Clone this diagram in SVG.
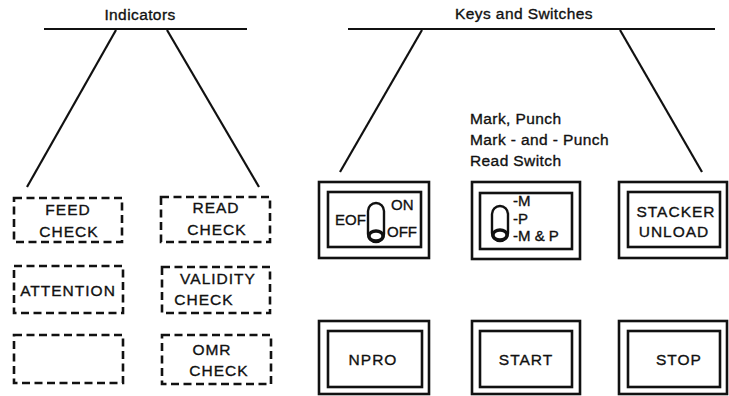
<svg xmlns="http://www.w3.org/2000/svg" width="729" height="396" viewBox="0 0 729 396">
<style>
text{font-family:"Liberation Sans",Arial,sans-serif;fill:#111;stroke:#111;stroke-width:0.35px;}
.h{font-size:15.5px;letter-spacing:0.4px;}
.c{font-size:15.5px;letter-spacing:1px;text-anchor:middle;}
.s{font-size:15px;}
.ln{stroke:#111;stroke-width:2.2;fill:none;}
.d{stroke:#111;stroke-width:2.6;fill:none;stroke-dasharray:8 4.5;}
.o{stroke:#111;stroke-width:2.6;fill:none;}
.pill{stroke:#111;stroke-width:2.4;fill:#fff;}
.ring{stroke:#111;stroke-width:3.4;fill:#fff;}
</style>
<rect width="729" height="396" fill="#fff"/>
<text class="h" x="140" y="20" text-anchor="middle">Indicators</text>
<text class="h" x="524" y="19" text-anchor="middle">Keys and Switches</text>
<g id="connectors">
<line class="ln" x1="44" y1="29" x2="247" y2="29"/>
<line class="ln" x1="116" y1="30" x2="27" y2="187"/>
<line class="ln" x1="167" y1="30" x2="259" y2="187"/>
<line class="ln" x1="348" y1="29" x2="715" y2="29"/>
<line class="ln" x1="422" y1="30" x2="340" y2="172"/>
<line class="ln" x1="620" y1="30" x2="702" y2="172"/>
</g>
<g id="feed-check"><rect class="d" x="14" y="198" width="108" height="44"/><text class="c" x="68" y="215">FEED</text><text class="c" x="69" y="237">CHECK</text></g>
<g id="read-check"><rect class="d" x="161" y="197" width="109" height="45"/><text class="c" x="216" y="213">READ</text><text class="c" x="217" y="235">CHECK</text></g>
<g id="attention"><rect class="d" x="14" y="266" width="109" height="47"/><text class="c" x="68" y="296">ATTENTION</text></g>
<g id="validity-check"><rect class="d" x="162" y="267" width="108" height="46"/><text class="c" x="218" y="284">VALIDITY</text><text class="c" x="204" y="305">CHECK</text></g>
<g id="blank-indicator"><rect class="d" x="14" y="335" width="109" height="48"/></g>
<g id="omr-check"><rect class="d" x="162" y="335" width="109" height="49"/><text class="c" x="212" y="355">OMR</text><text class="c" x="219" y="376">CHECK</text></g>
<text class="h" x="470" y="124">Mark, Punch</text>
<text class="h" x="470" y="145">Mark - and - Punch</text>
<text class="h" x="470" y="166">Read Switch</text>
<g id="eof-switch">
<rect class="o" x="319" y="182" width="110" height="76"/>
<rect class="o" x="328" y="192" width="93" height="55"/>
<text class="s" x="335" y="225">EOF</text>
<rect class="pill" x="368" y="203" width="16" height="39" rx="8"/>
<ellipse class="ring" cx="376" cy="236" rx="7" ry="5"/>
<text class="s" x="391" y="210">ON</text>
<text class="s" x="387" y="237">OFF</text>
</g>
<g id="mark-punch-switch">
<rect class="o" x="472" y="182" width="108" height="77"/>
<rect class="o" x="480" y="193" width="92" height="56"/>
<rect class="pill" x="492" y="206" width="16" height="35" rx="8"/>
<ellipse class="ring" cx="500" cy="235" rx="7" ry="5"/>
<text class="s" x="513" y="206">-M</text>
<text class="s" x="513" y="224">-P</text>
<text class="s" x="513" y="241">-M &amp; P</text>
</g>
<g id="stacker-unload">
<rect class="o" x="619" y="182" width="108" height="76"/>
<rect class="o" x="628" y="192" width="92" height="55"/>
<text class="c" x="676" y="217">STACKER</text>
<text class="c" x="674" y="237">UNLOAD</text>
</g>
<g id="npro">
<rect class="o" x="319" y="321" width="110" height="73"/>
<rect class="o" x="328" y="331" width="94" height="56"/>
<text class="c" x="373" y="365">NPRO</text>
</g>
<g id="start">
<rect class="o" x="472" y="321" width="108" height="73"/>
<rect class="o" x="480" y="331" width="92" height="56"/>
<text class="c" x="526" y="365">START</text>
</g>
<g id="stop">
<rect class="o" x="619" y="321" width="108" height="73"/>
<rect class="o" x="628" y="331" width="92" height="56"/>
<text class="c" x="679" y="365">STOP</text>
</g>
</svg>
